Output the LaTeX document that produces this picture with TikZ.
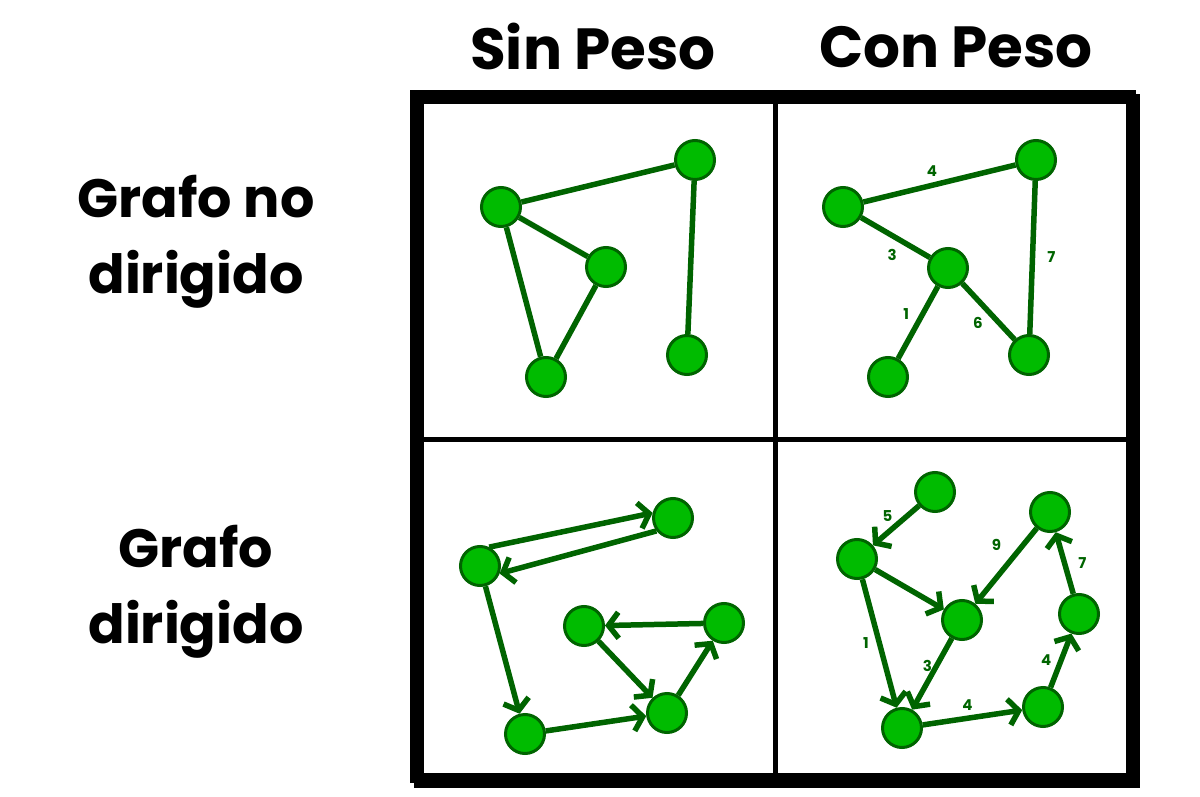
\documentclass[tikz,border=0pt]{standalone}
\usepackage{fontspec}
\setmainfont{Poppins}
\usetikzlibrary{arrows.meta}
\definecolor{vfill}{RGB}{0,187,0}
\definecolor{vline}{RGB}{0,100,0}

\begin{document}
\begin{tikzpicture}[
    x=1pt, y=-1pt,
    vtx/.style={draw=vline, circle, fill=vfill, line width=3pt, minimum size=39pt, inner sep=0pt},
    edge/.style={draw=vline, line width=5.5pt},
    arc/.style={edge, -{Straight Barb[length=10pt,width=26pt]}},
    wt/.style={font=\bfseries\fontsize{15}{15}\selectfont, text=vline, inner sep=1pt},
    head/.style={font=\bfseries\fontsize{58}{58}\selectfont},
    side/.style={font=\bfseries\fontsize{54}{76}\selectfont, align=center}
]
\useasboundingbox (0,0) rectangle (1200,797);

\fill (414,94) rectangle (1140,788);
\fill (410,90) rectangle (1136,783);
\fill[white] (424,104) rectangle (1126,773);
\draw[line width=5pt] (775,104) -- (775,773);
\draw[line width=5pt] (424,439) -- (1126,439);

\node[head] (sinpeso) at (593,47) {Sin Peso};
\node[head] (conpeso) at (956,47) {Con Peso};
\node[side] (nodir) at (196,242) {Grafo no\\dirigido};
\node[side] (dir) at (196,592) {Grafo\\dirigido};

% sin peso, no dirigido
\node[vtx] (a1) at (501,207) {};
\node[vtx] (a2) at (695,160) {};
\node[vtx] (a3) at (606,267) {};
\node[vtx] (a4) at (546,377) {};
\node[vtx] (a5) at (687,355) {};
\draw[edge] (a1) -- (a2);
\draw[edge] (a1) -- (a3);
\draw[edge] (a1) -- (a4);
\draw[edge] (a3) -- (a4);
\draw[edge] (a2) -- (a5);

% con peso, no dirigido
\node[vtx] (b1) at (843,207) {};
\node[vtx] (b2) at (1036,160) {};
\node[vtx] (b3) at (948,268) {};
\node[vtx] (b4) at (888,377) {};
\node[vtx] (b5) at (1029,355) {};
\draw[edge] (b1) -- node[wt, pos=.45, above=5pt] {4} (b2);
\draw[edge] (b1) -- node[wt, pos=.45, below=10pt] {3} (b3);
\draw[edge] (b3) -- node[wt, pos=.38, left=10pt] {1} (b4);
\draw[edge] (b3) -- node[wt, pos=.5, below left=2pt] {6} (b5);
\draw[edge] (b2) -- node[wt, pos=.5, right=11pt] {7} (b5);

% sin peso, dirigido
\node[vtx] (c1) at (480,566) {};
\node[vtx] (c2) at (673,518) {};
\node[vtx] (c3) at (584,626) {};
\node[vtx] (c4) at (724,623) {};
\node[vtx] (c5) at (667,713) {};
\node[vtx] (c6) at (525,734) {};
\draw[arc] (c1.64) -- (c2.166);
\draw[arc] (c2.218) -- (c1.-21);
\draw[arc] (c1) -- (c6);
\draw[arc] (c6) -- (c5);
\draw[arc] (c5) -- (c4);
\draw[arc] (c4) -- (c3);
\draw[arc] (c3) -- (c5);

% con peso, dirigido
\node[vtx] (d1) at (935,492) {};
\node[vtx] (d2) at (857,559) {};
\node[vtx] (d3) at (1050,512) {};
\node[vtx] (d4) at (962,620) {};
\node[vtx] (d5) at (1079,614) {};
\node[vtx] (d6) at (902,728) {};
\node[vtx] (d7) at (1043,707) {};
\draw[arc] (d1) -- node[wt, pos=.5, above left=0pt] {5} (d2);
\draw[arc] (d2) -- (d4);
\draw[arc] (d2) -- node[wt, pos=.5, left=7pt] {1} (d6);
\draw[arc] (d3) -- node[wt, pos=.42, above left=6pt] {9} (d4);
\draw[arc] (d4) -- node[wt, pos=.38, left=1pt] {3} (d6);
\draw[arc] (d6) -- node[wt, pos=.45, above=4pt] {4} (d7);
\draw[arc] (d7) -- node[wt, pos=.5, left=6pt] {4} (d5);
\draw[arc] (d5) -- node[wt, pos=.5, right=10pt] {7} (d3);
\end{tikzpicture}
\end{document}
